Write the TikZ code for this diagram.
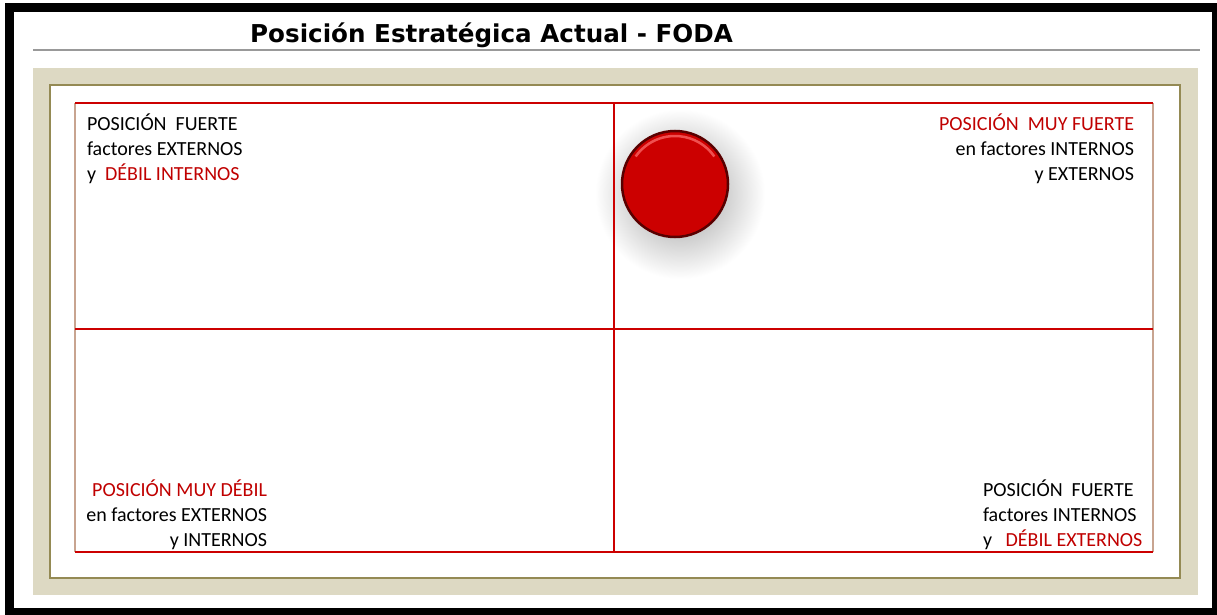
\documentclass[tikz,border=0pt]{standalone}
\usepackage{fontspec}
\setmainfont{Carlito}
\newfontfamily\titlefont{DejaVu Sans}
\usepackage{xcolor}
\usetikzlibrary{positioning,calc}

\definecolor{fodared}{HTML}{C00000}
\definecolor{gridred}{HTML}{CC0000}
\definecolor{beige}{HTML}{DDD9C3}
\definecolor{olive}{HTML}{948A54}
\definecolor{tan}{HTML}{C8A490}
\newcommand{\fodatext}{\fontsize{20}{25}\selectfont}

\begin{document}
\begin{tikzpicture}[
    x=1pt, y=-1pt,
    quad/.style={inner sep=0pt, outer sep=0pt, font=\fodatext, text=black},
    panel/.style={inner sep=0pt, outer sep=0pt, minimum width=#1},
    gridline/.style={draw=gridred, line width=#1},
    gridline/.default=1.2pt
]
    \useasboundingbox[fill=white] (0,0) rectangle (1217,615);

    % Frame and title
    \draw[line width=9pt] (9.5,7.5) rectangle (1216.5,612.5);
    \node[anchor=base west, inner sep=0pt, font=\titlefont\bfseries\fontsize{24.6}{30}\selectfont] (title) at (250,43) {Posición Estratégica Actual - FODA};
    \coordinate (ruleL) at (33,50);
    \coordinate (ruleR) at (1200,50);
    \draw[gray!80, line width=2pt] (ruleL) -- (ruleR);

    % Background panels
    \node[panel=1165pt, minimum height=527pt, fill=beige] (outer) at (615.5,331.5) {};
    \node[panel=1130pt, minimum height=493pt, fill=white, draw=olive, line width=1.5pt] (inner) at (615,331.5) {};
    \node[panel=1078pt, minimum height=449pt, fill=white] (grid) at (614,327.5) {};

    % Glow behind the ball
    \shade[inner color=black!40, outer color=white] (680,194) circle (85);

    % Grid
    \coordinate (mid) at (614,329);
    \draw[tan, line width=1.5pt] (grid.north west) -- (grid.south west);
    \draw[tan, line width=1.5pt] (grid.north east) -- (grid.south east);
    \draw[gridline=1.5pt] (grid.north west) -- (grid.north east);
    \draw[gridline=2pt] (grid.south west) -- (grid.south east);
    \draw[gridline] (mid |- grid.north) -- (mid |- grid.south);
    \draw[gridline=2.5pt] (mid -| grid.west) -- (mid -| grid.east);

    % Ball
    \node[circle, minimum size=106pt, inner sep=0pt, fill=gridred, draw=black!65!red, line width=2.5pt] (ball) at (675,184) {};
    \draw[red!55!white, line width=2.5pt, opacity=0.7] ($(ball.center)+(215:48)$) arc[start angle=215, end angle=325, radius=48];

    % Quadrant texts
    \node[quad, anchor=base west, align=left] (strongext) at (87,180)
        {POSICIÓN\ \ FUERTE\\factores EXTERNOS\\y\ \ {\color{fodared}DÉBIL INTERNOS}};
    \node[quad, anchor=base east, align=right] (verystrong) at (1134,180)
        {{\color{fodared}POSICIÓN\ \ MUY FUERTE}\\en factores INTERNOS\\y EXTERNOS};
    \node[quad, anchor=base east, align=right] (veryweak) at (267,546)
        {{\color{fodared}POSICIÓN MUY DÉBIL}\ \\en factores EXTERNOS\\y INTERNOS};
    \node[quad, anchor=base west, align=left] (strongint) at (983,546)
        {POSICIÓN\ \ FUERTE\\factores INTERNOS\\y\ \ \ {\color{fodared}DÉBIL EXTERNOS}};
\end{tikzpicture}
\end{document}
